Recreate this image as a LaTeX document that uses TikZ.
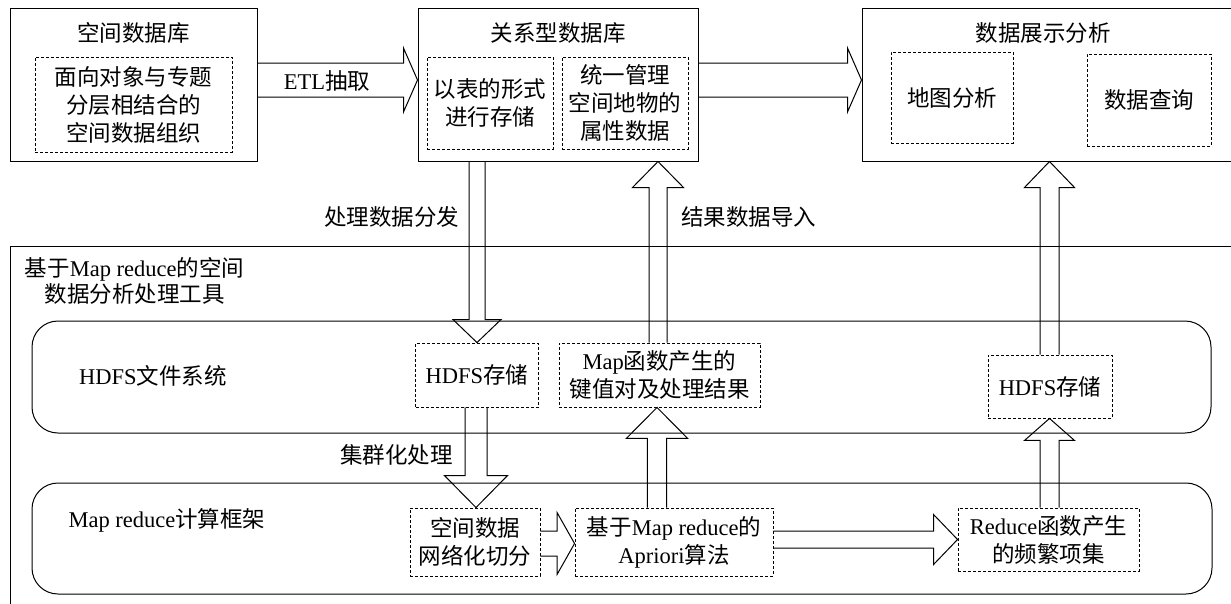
\documentclass[tikz,border=0pt]{standalone}
\usepackage{fontspec}
\setmainfont{Liberation Serif}
\newfontfamily\cjk{Noto Sans CJK SC}
\newcommand\zh[1]{{\cjk #1}}
\newcommand\fs{\fontsize{22.5}{28}\selectfont}
\usetikzlibrary{calc}
\tikzset{
  solidbox/.style={draw, line width=1pt, inner sep=0pt},
  dashbox/.style={draw, line width=0.9pt, dash pattern=on 3pt off 2pt, inner sep=0pt, align=center, font=\fs},
  roundbox/.style={draw, line width=1pt, rounded corners=26pt, inner sep=0pt},
  lbl/.style={inner sep=0pt, align=center, font=\fs},
  blk/.style={draw, line width=1pt, line join=miter}
}
% right arrow: from #1 to #2, centre y #3, shaft half #4, head half #5, head length #6
\newcommand\rarr[6]{\draw[blk] let \p1=(#1), \p2=(#2) in
  (\x1,{-(#3-#4)*1pt}) -- ({\x2-#6pt},{-(#3-#4)*1pt}) -- ({\x2-#6pt},{-(#3-#5)*1pt})
  -- (\x2,{-#3*1pt}) -- ({\x2-#6pt},{-(#3+#5)*1pt}) -- ({\x2-#6pt},{-(#3+#4)*1pt}) -- (\x1,{-(#3+#4)*1pt});}
% down arrow
\newcommand\darr[6]{\draw[blk] let \p1=(#1), \p2=(#2) in
  ({(#3-#4)*1pt},\y1) -- ({(#3-#4)*1pt},{\y2+#6pt}) -- ({(#3-#5)*1pt},{\y2+#6pt})
  -- ({#3*1pt},\y2) -- ({(#3+#5)*1pt},{\y2+#6pt}) -- ({(#3+#4)*1pt},{\y2+#6pt}) -- ({(#3+#4)*1pt},\y1);}
% up arrow
\newcommand\uarr[6]{\draw[blk] let \p1=(#1), \p2=(#2) in
  ({(#3-#4)*1pt},\y1) -- ({(#3-#4)*1pt},{\y2-#6pt}) -- ({(#3-#5)*1pt},{\y2-#6pt})
  -- ({#3*1pt},\y2) -- ({(#3+#5)*1pt},{\y2-#6pt}) -- ({(#3+#4)*1pt},{\y2-#6pt}) -- ({(#3+#4)*1pt},\y1);}
\begin{document}
\begin{tikzpicture}[x=1pt,y=-1pt]
\useasboundingbox (0,0) rectangle (1231,603);
\fill[white] (0,0) rectangle (1231,603);
\clip (0,0) rectangle (1231,603);

% top row
\node[solidbox, minimum width=247pt, minimum height=153pt] (box1) at (133.5,84.5) {};
\node[lbl] (t1) at (133.5,33) {\zh{空间数据库}};
\node[dashbox, minimum width=197pt, minimum height=95pt] (in1) at (133.5,104.5)
  {\zh{面向对象与专题}\\\zh{分层相结合的}\\\zh{空间数据组织}};

\node[solidbox, minimum width=280pt, minimum height=153pt] (box2) at (558,84.5) {};
\node[lbl] (t2) at (558,33) {\zh{关系型数据库}};
\node[dashbox, minimum width=126pt, minimum height=92pt] (d2a) at (490,103)
  {\zh{以表的形式}\\\zh{进行存储}};
\node[dashbox, minimum width=126pt, minimum height=92pt] (d2b) at (625,103)
  {\zh{统一管理}\\\zh{空间地物的}\\\zh{属性数据}};

\node[solidbox, minimum width=378pt, minimum height=153pt] (box3) at (1051,84.5) {};
\node[lbl] (t3) at (1043,33) {\zh{数据展示分析}};
\node[dashbox, minimum width=122pt, minimum height=91pt] (d3a) at (952,97.5) {\zh{地图分析}};
\node[dashbox, minimum width=124pt, minimum height=92pt] (d3b) at (1149,100) {\zh{数据查询}};

% tool frame
\coordinate (tbl) at (10,610);
\coordinate (ttl) at (10,246);
\coordinate (ttr) at (1240,246);
\draw[line width=1pt] (tbl) -- (ttl) -- (ttr);
\node[lbl, font=\fontsize{22.5}{26}\selectfont] (tooltitle) at (134.5,281)
  {\zh{基于}Map reduce\zh{的空间}\\\zh{数据分析处理工具}};

% HDFS layer
\node[roundbox, minimum width=1179pt, minimum height=112pt] (hdfsR) at (621.5,377) {};
\node[lbl] (hdfsL) at (153,376) {HDFS\zh{文件系统}};
\node[dashbox, minimum width=122.5pt, minimum height=64pt] (hdfs1) at (477,375) {HDFS\zh{存储}};
\node[dashbox, minimum width=201pt, minimum height=64pt] (mapkv) at (659.5,375)
  {Map\zh{函数产生的}\\\zh{键值对及处理结果}};
\node[dashbox, minimum width=124pt, minimum height=63pt] (hdfs2) at (1050,386.5) {HDFS\zh{存储}};

% Map reduce layer
\node[roundbox, minimum width=1180pt, minimum height=111pt] (mrR) at (622,538.5) {};
\node[lbl] (mrL) at (167,520) {Map reduce\zh{计算框架}};
\node[dashbox, minimum width=130pt, minimum height=68pt] (split) at (475,542)
  {\zh{空间数据}\\\zh{网络化切分}};
\node[dashbox, minimum width=198pt, minimum height=68pt] (apriori) at (674,542)
  {\zh{基于}Map reduce\zh{的}\\Apriori\zh{算法}};
\node[dashbox, minimum width=181pt, minimum height=63pt] (reduce) at (1048.5,539.5)
  {Reduce\zh{函数产生}\\\zh{的频繁项集}};

% labels
\node[lbl] (etl) at (327,81) {ETL\zh{抽取}};
\node[lbl] (dist) at (391.5,217) {\zh{处理数据分发}};
\node[lbl] (imp) at (748.5,217) {\zh{结果数据导入}};
\node[lbl] (clus) at (396.5,455) {\zh{集群化处理}};

% block arrows
\rarr{box1.east}{box2.west}{80}{17}{32}{14}
\rarr{box2.east}{box3.west}{80}{17}{32}{14}
\darr{box2.south}{hdfs1.north}{477}{8}{24}{23}
\uarr{mapkv.north}{box2.south}{658}{9}{25.5}{26}
\uarr{hdfs2.north}{box3.south}{1049.5}{9.5}{25}{26}
\darr{hdfs1.south}{split.north}{476}{11}{31.5}{32}
\rarr{split.east}{apriori.west}{543.5}{12.5}{31}{17.5}
\uarr{apriori.north}{mapkv.south}{657}{9.6}{30.7}{31}
\rarr{apriori.east}{reduce.west}{539.5}{8.5}{25}{24}
\uarr{reduce.north}{hdfs2.south}{1049.5}{9.5}{25}{22}
\end{tikzpicture}
\end{document}
